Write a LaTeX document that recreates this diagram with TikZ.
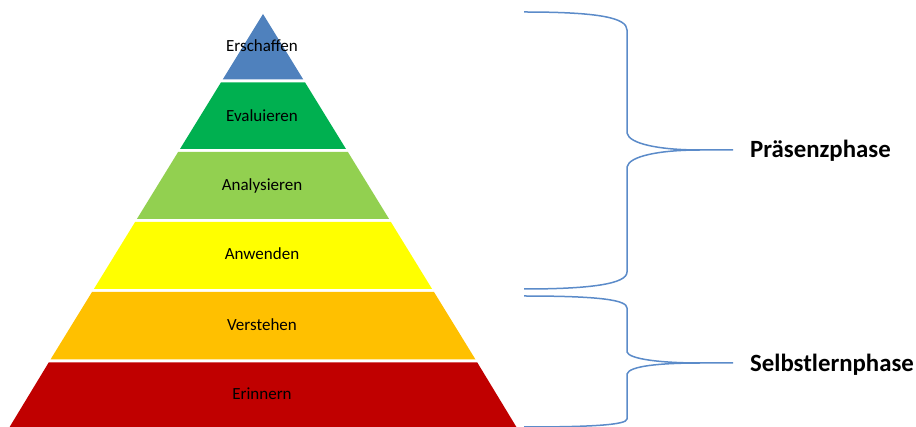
\documentclass[tikz,border=0pt]{standalone}
\usepackage{fontspec}
\setmainfont{Carlito}
\definecolor{lblue}{HTML}{4F81BD}
\definecolor{lgreen}{HTML}{00B050}
\definecolor{llime}{HTML}{92D050}
\definecolor{lyellow}{HTML}{FFFF00}
\definecolor{lorange}{HTML}{FFC000}
\definecolor{lred}{HTML}{C00000}
\definecolor{bracecol}{HTML}{5B8BC9}
\tikzset{
  layertext/.style={font=\fontsize{17}{20}\selectfont, text=black, inner sep=0pt},
  phasetext/.style={font=\fontsize{24.8}{29}\selectfont\bfseries, text=black, anchor=west, inner sep=0pt},
  bracepath/.style={draw=bracecol, line width=1.5pt, line join=round},
}
\begin{document}
\begin{tikzpicture}[x=1pt,y=-1pt]
\useasboundingbox (0,0) rectangle (916,427);
% layers
\fill[lblue] (263,14) -- (303.3,79.5) -- (222.7,79.5) -- cycle;
\fill[lgreen] (220.9,82.5) -- (305.1,82.5) -- (346.0,149) -- (180.0,149) -- cycle;
\fill[llime] (178.1,152) -- (347.9,152) -- (389.1,219) -- (136.9,219) -- cycle;
\fill[lyellow] (135.1,222) -- (390.9,222) -- (432.1,289) -- (93.9,289) -- cycle;
\fill[lorange] (92.0,292) -- (434.0,292) -- (475.5,359.5) -- (50.5,359.5) -- cycle;
\fill[lred] (48.7,362.5) -- (477.3,362.5) -- (516.4,427) -- (9.6,427) -- cycle;
% layer labels
\node[layertext] (erschaffen) at (262,46) {Erschaffen};
\node[layertext] (evaluieren) at (262,116) {Evaluieren};
\node[layertext] (analysieren) at (262,186) {Analysieren};
\node[layertext] (anwenden) at (262,254) {Anwenden};
\node[layertext] (verstehen) at (262,325) {Verstehen};
\node[layertext] (erinnern) at (262,394) {Erinnern};
% braces
\draw[bracepath] (524,12) .. controls (600,12) and (627,18) .. (627,30)
  -- (627,133) .. controls (629,144) and (660,150) .. (700,150) -- (733,150);
\draw[bracepath] (700,150) .. controls (660,150) and (629,156) .. (627,167)
  -- (627,272) .. controls (627,284) and (590,289) .. (524,289);
\draw[bracepath] (524,296) .. controls (600,296) and (627,300) .. (627,308)
  -- (627,352) .. controls (629,359) and (660,363) .. (700,363) -- (733,363);
\draw[bracepath] (700,363) .. controls (660,363) and (629,366) .. (627,374)
  -- (627,419) .. controls (627,425) and (590,427) .. (524,427);
% phase labels
\node[phasetext] (praesenz) at (750,151) {Präsenzphase};
\node[phasetext] (selbst) at (750,365) {Selbstlernphase};
\end{tikzpicture}
\end{document}
